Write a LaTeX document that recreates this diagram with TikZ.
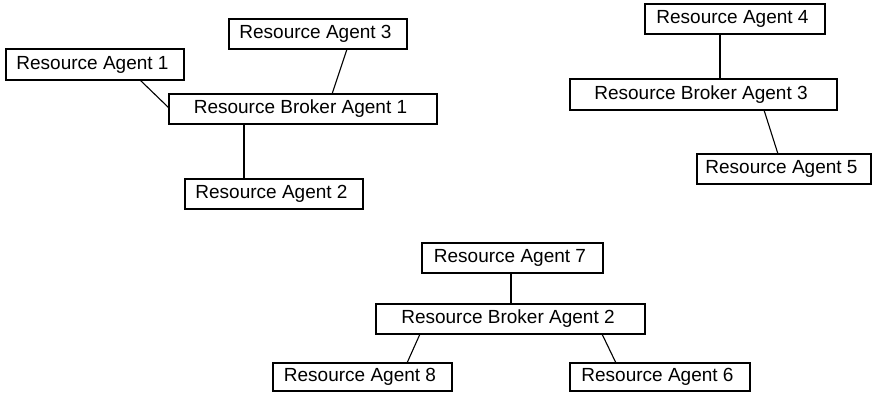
\documentclass[tikz,border=0pt]{standalone}
\usepackage{fontspec}
\setmainfont{Liberation Sans}
\usetikzlibrary{calc}
\newcommand{\agentlabel}[1]{#1\hspace*{5pt}}
\begin{document}
\begin{tikzpicture}[x=1pt, y=-1pt,
  agentbox/.style={draw=black, fill=white, line width=1.1pt, inner sep=0pt, outer sep=0pt,
    minimum height=30pt, font=\fontsize{19}{21}\selectfont},
  link/.style={draw=black, line width=1.1pt}]
  \useasboundingbox (0,0) rectangle (873,392);

  % first group
  \node[agentbox, minimum width=178pt, minimum height=31pt] (ra1) at (95,64.5) {\agentlabel{Resource Agent 1}};
  \node[agentbox, minimum width=178pt] (ra3) at (318,34) {\agentlabel{Resource Agent 3}};
  \node[agentbox, minimum width=268pt] (b1) at (303,109) {\agentlabel{Resource Broker Agent 1}};
  \node[agentbox, minimum width=178pt] (ra2) at (274,194) {\agentlabel{Resource Agent 2}};

  % second group
  \node[agentbox, minimum width=180pt] (ra4) at (735,19) {\agentlabel{Resource Agent 4}};
  \node[agentbox, minimum width=267pt, minimum height=31pt] (b3) at (703.5,94.5) {\agentlabel{Resource Broker Agent 3}};
  \node[agentbox, minimum width=174pt] (ra5) at (784,169) {\agentlabel{Resource Agent 5}};

  % third group
  \node[agentbox, minimum width=181pt] (ra7) at (512.5,258) {\agentlabel{Resource Agent 7}};
  \node[agentbox, minimum width=269pt] (b2) at (510.5,319) {\agentlabel{Resource Broker Agent 2}};
  \node[agentbox, minimum width=179pt, minimum height=28pt] (ra8) at (362.5,377) {\agentlabel{Resource Agent 8}};
  \node[agentbox, minimum width=180pt, minimum height=28pt] (ra6) at (660,377) {\agentlabel{Resource Agent 6}};

  % connectors
  \draw[link] ($(ra1.south west)+(134,0)$) -- ($(b1.north west)+(0,14)$);
  \draw[link] ($(ra3.south west)+(118,0)$) -- ($(b1.north west)+(163,0)$);
  \draw[link] ($(b1.south west)+(75,0)$) -- ($(ra2.north west)+(59,0)$);

  \draw[link] ($(ra4.south west)+(75,0)$) -- ($(b3.north west)+(150,0)$);
  \draw[link] ($(b3.south west)+(194,0)$) -- ($(ra5.north west)+(81,0)$);

  \draw[link] ($(ra7.south west)+(89,0)$) -- ($(b2.north west)+(135,0)$);
  \draw[link] ($(b2.south west)+(44,0)$) -- ($(ra8.north west)+(134,0)$);
  \draw[link] ($(b2.south west)+(226,0)$) -- ($(ra6.north west)+(46,0)$);
\end{tikzpicture}
\end{document}
